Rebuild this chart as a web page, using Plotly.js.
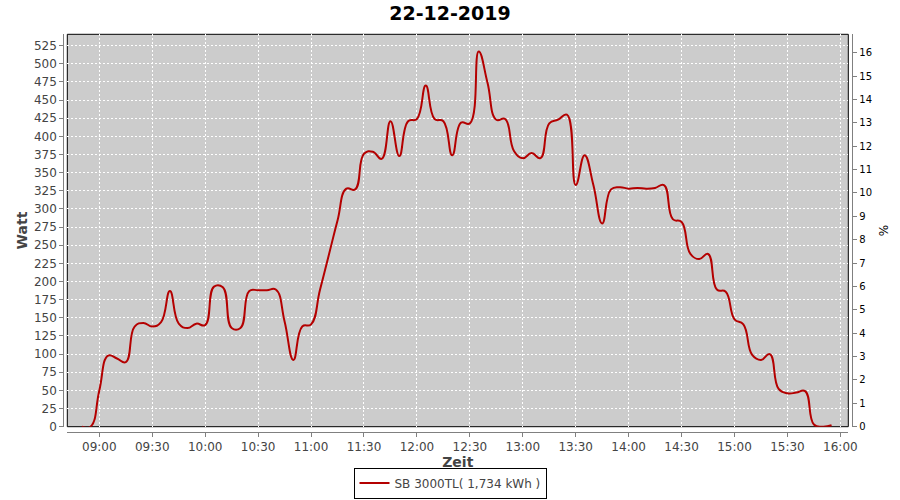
<!DOCTYPE html>
<html>
<head>
<meta charset="utf-8">
<script src="https://cdn.plot.ly/plotly-3.0.1.min.js"></script>
<style>
  html, body { margin: 0; padding: 0; background: #ffffff; }
  #chart { width: 900px; height: 500px; }
</style>
</head>
<body>
<div id="chart"></div>
<script>
const chartTitle = '22-12-2019';
const dateStr = '2019-12-22';
const seriesName = 'SB 3000TL( 1,734 kWh )';

const times = [
  '08:50','08:55','09:00','09:05','09:10','09:15','09:20','09:25','09:30','09:35',
  '09:40','09:45','09:50','09:55','10:00','10:05','10:10','10:15','10:20','10:25',
  '10:30','10:35','10:40','10:45','10:50','10:55','11:00','11:05','11:10','11:15',
  '11:20','11:25','11:30','11:35','11:40','11:45','11:50','11:55','12:00','12:05',
  '12:10','12:15','12:20','12:25','12:30','12:35','12:40','12:45','12:50','12:55',
  '13:00','13:05','13:10','13:15','13:20','13:25','13:30','13:35','13:40','13:45',
  '13:50','13:55','14:00','14:05','14:10','14:15','14:20','14:25','14:30','14:35',
  '14:40','14:45','14:50','14:55','15:00','15:05','15:10','15:15','15:20','15:25',
  '15:30','15:35','15:40','15:45','15:50','15:55'
];

const watts = [
  0, 0, 50, 98, 94, 89, 138, 143, 138, 144,
  187, 142, 136, 142, 140, 193, 192, 136, 136, 187,
  188, 188, 189, 145, 92, 138, 141, 188, 236, 284,
  328, 327, 376, 379, 369, 421, 373, 421, 424, 470,
  424, 421, 374, 419, 418, 517, 474, 423, 424, 380,
  370, 377, 370, 418, 423, 430, 333, 374, 333, 280,
  327, 330, 328, 329, 328, 329, 333, 286, 282, 238,
  231, 238, 189, 186, 148, 141, 99, 92, 100, 52,
  46, 47, 49, 3, 0, 2
];

const xRange = [dateStr + ' 08:41:51', dateStr + ' 16:04:29'];
const wattRange = [0, 540.7];
const pctRange = [0, 16.79];

const trace = {
  x: times.map(t => dateStr + ' ' + t),
  y: watts,
  type: 'scatter',
  mode: 'lines',
  name: seriesName,
  line: { color: '#b40000', width: 2, shape: 'spline', smoothing: 1.3 },
  hoverinfo: 'skip'
};

const font = 'DejaVu Sans, sans-serif';

const layout = {
  width: 900,
  height: 500,
  margin: { l: 0, r: 0, t: 0, b: 0, autoexpand: false },
  paper_bgcolor: '#ffffff',
  plot_bgcolor: '#cccccc',
  font: { family: font, size: 12, color: '#444444' },
  title: {
    text: '<b>' + chartTitle + '</b>',
    x: 0.5, xanchor: 'center', xref: 'paper',
    y: 0.974, yanchor: 'middle', yref: 'container',
    font: { family: font, size: 19, color: '#000000' }
  },
  showlegend: true,
  legend: {
    orientation: 'h',
    x: 0.5, xanchor: 'center',
    y: 0.003, yanchor: 'bottom',
    bgcolor: '#ffffff',
    bordercolor: '#000000',
    borderwidth: 1,
    itemwidth: 30,
    font: { family: font, size: 12, color: '#444444' }
  },
  xaxis: {
    type: 'date',
    domain: [0.07478, 0.94256],
    range: xRange,
    anchor: 'free',
    position: 0.1366,
    tick0: dateStr + ' 09:00',
    dtick: 1800000,
    tickformat: '%H:%M',
    ticks: 'outside',
    ticklen: 4,
    tickcolor: '#808080',
    showline: true,
    linecolor: '#808080',
    linewidth: 1,
    showgrid: true,
    gridcolor: '#ffffff',
    gridwidth: 1,
    griddash: '2px,2px',
    zeroline: false,
    tickfont: { family: font, size: 12, color: '#444444' },
    title: { text: '<b>Zeit</b>', font: { family: font, size: 14, color: '#444444' }, standoff: 2 }
  },
  yaxis: {
    domain: [0.1466, 0.9314],
    range: wattRange,
    anchor: 'free',
    position: 0.0703,
    side: 'left',
    dtick: 25,
    tick0: 0,
    ticks: 'outside',
    ticklen: 4,
    tickcolor: '#808080',
    showline: true,
    linecolor: '#808080',
    linewidth: 1,
    showgrid: true,
    gridcolor: '#ffffff',
    gridwidth: 1,
    griddash: '2px,2px',
    zeroline: false,
    tickfont: { family: font, size: 12, color: '#444444' },
    title: { text: '<b>Watt</b>', font: { family: font, size: 14, color: '#444444' }, standoff: 2 }
  },
  yaxis2: {
    overlaying: 'y',
    side: 'right',
    anchor: 'free',
    position: 0.947,
    range: pctRange,
    dtick: 1,
    tick0: 0,
    ticks: 'outside',
    ticklen: 4,
    tickcolor: '#808080',
    showline: true,
    linecolor: '#808080',
    linewidth: 1,
    showgrid: false,
    zeroline: false,
    tickfont: { family: font, size: 10, color: '#000000' },
    title: { text: '%', font: { family: font, size: 12, color: '#000000' }, standoff: 8 }
  },
  shapes: [{
    type: 'rect',
    xref: 'x domain', yref: 'y domain',
    x0: 0, x1: 1, y0: 0, y1: 1,
    line: { color: '#000000', width: 1 },
    fillcolor: 'rgba(0,0,0,0)',
    layer: 'below'
  }]
};

const dummy = {
  x: [xRange[0]], y: [null], yaxis: 'y2', type: 'scatter', mode: 'lines',
  showlegend: false, hoverinfo: 'skip'
};

Plotly.newPlot('chart', [trace, dummy], layout, { staticPlot: true, displayModeBar: false });
</script>
</body>
</html>
